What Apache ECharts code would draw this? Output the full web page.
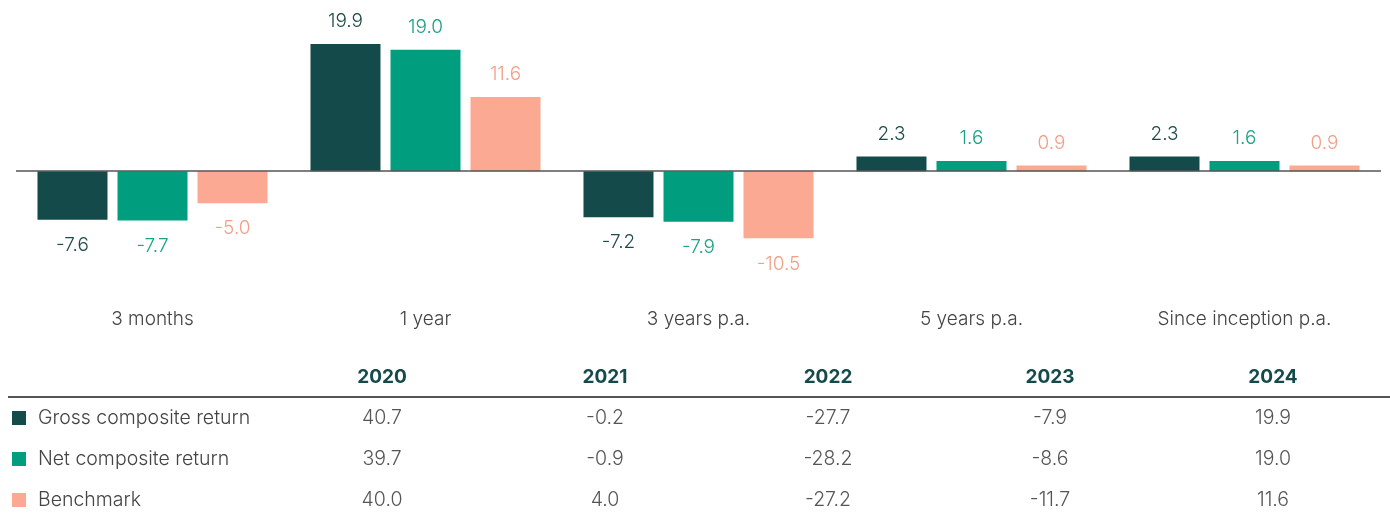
<!DOCTYPE html>
<html>
<head>
<meta charset="utf-8">
<script src="https://cdn.jsdelivr.net/npm/echarts@6/dist/echarts.min.js"></script>
<style>
  html, body { margin: 0; padding: 0; background: #fff; }
  #main { width: 1390px; height: 518px; }
</style>
</head>
<body>
<div id="main"></div>
<script>
// period returns shown as bars
var periods = ["3 months", "1 year", "3 years p.a.", "5 years p.a.", "Since inception p.a."];
var gross = [-7.6, 19.9, -7.2, 2.3, 2.3];
var net = [-7.7, 19.0, -7.9, 1.6, 1.6];
var bench = [-5.0, 11.6, -10.5, 0.9, 0.9];

// calendar year table
var years = ["2020", "2021", "2022", "2023", "2024"];
var rowNames = ["Gross composite return", "Net composite return", "Benchmark"];
var grossYear = [40.7, -0.2, -27.7, -7.9, 19.9];
var netYear = [39.7, -0.9, -28.2, -8.6, 19.0];
var benchYear = [40.0, 4.0, -27.2, -11.7, 11.6];

var colors = ["#154a4a", "#009e7e", "#fba992"];
var labelColors = ["#1d4a4a", "#1aa384", "#f3a08a"];
var font = "Inter, 'Noto Sans', sans-serif";

var chartDom = document.getElementById("main");
var myChart = echarts.init(chartDom);
var option;

function barData(values) {
  return values.map(function (v) {
    return {
      value: v,
      label: v < 0 ? { position: "bottom", distance: 16 } : { position: "top", distance: 13 },
    };
  });
}

function barSeries(name, values, idx) {
  var s = {
    name: name,
    type: "bar",
    barWidth: 70,
    barGap: "14.3%",
    itemStyle: { color: colors[idx] },
    label: {
      show: true,
      fontFamily: font,
      fontWeight: 300,
      fontSize: 19,
      color: labelColors[idx],
      formatter: function (p) {
        return p.value.toFixed(1);
      },
    },
    data: barData(values),
  };
  if (idx === 0) {
    s.markLine = {
      silent: true,
      symbol: ["none", "none"],
      label: { show: false },
      lineStyle: { color: "#555", width: 1.5, type: "solid" },
      data: [{ yAxis: 0 }],
    };
  }
  return s;
}

// table drawn as graphic elements
var colX = [382, 605, 828, 1050, 1273];
var rowY = [418, 459, 500];
var tableRows = [grossYear, netYear, benchYear];
var graphics = [];

years.forEach(function (y, i) {
  graphics.push({
    type: "text",
    x: colX[i],
    y: 377,
    style: {
      text: y,
      align: "center",
      verticalAlign: "middle",
      font: "bold 19px " + font,
      fill: "#154a4a",
    },
  });
});
graphics.push({
  type: "line",
  shape: { x1: 8, y1: 397, x2: 1390, y2: 397 },
  style: { stroke: "#555", lineWidth: 2 },
});
rowNames.forEach(function (name, r) {
  graphics.push({
    type: "rect",
    shape: { x: 12, y: rowY[r] - 7, width: 14, height: 14 },
    style: { fill: colors[r] },
  });
  graphics.push({
    type: "text",
    x: 38,
    y: rowY[r],
    style: {
      text: name,
      align: "left",
      verticalAlign: "middle",
      font: "300 19.5px " + font,
      fill: "#444",
    },
  });
  tableRows[r].forEach(function (v, i) {
    graphics.push({
      type: "text",
      x: colX[i],
      y: rowY[r],
      style: {
        text: v.toFixed(1),
        align: "center",
        verticalAlign: "middle",
        font: "300 19.5px " + font,
        fill: "#555",
      },
    });
  });
});

option = {
  animation: false,
  grid: { left: 16, width: 1365, top: 0, height: 299 },
  xAxis: {
    type: "category",
    data: periods,
    axisLine: { show: false, onZero: false },
    axisTick: { show: false },
    axisLabel: {
      margin: 11,
      fontFamily: font,
      fontWeight: 300,
      fontSize: 19,
      color: "#444",
    },
  },
  yAxis: {
    type: "value",
    min: -20,
    max: 26.8,
    show: false,
    splitLine: { show: false },
  },
  series: [
    barSeries("Gross composite return", gross, 0),
    barSeries("Net composite return", net, 1),
    barSeries("Benchmark", bench, 2),
  ],
  graphic: graphics,
};

option && myChart.setOption(option);
</script>
</body>
</html>
